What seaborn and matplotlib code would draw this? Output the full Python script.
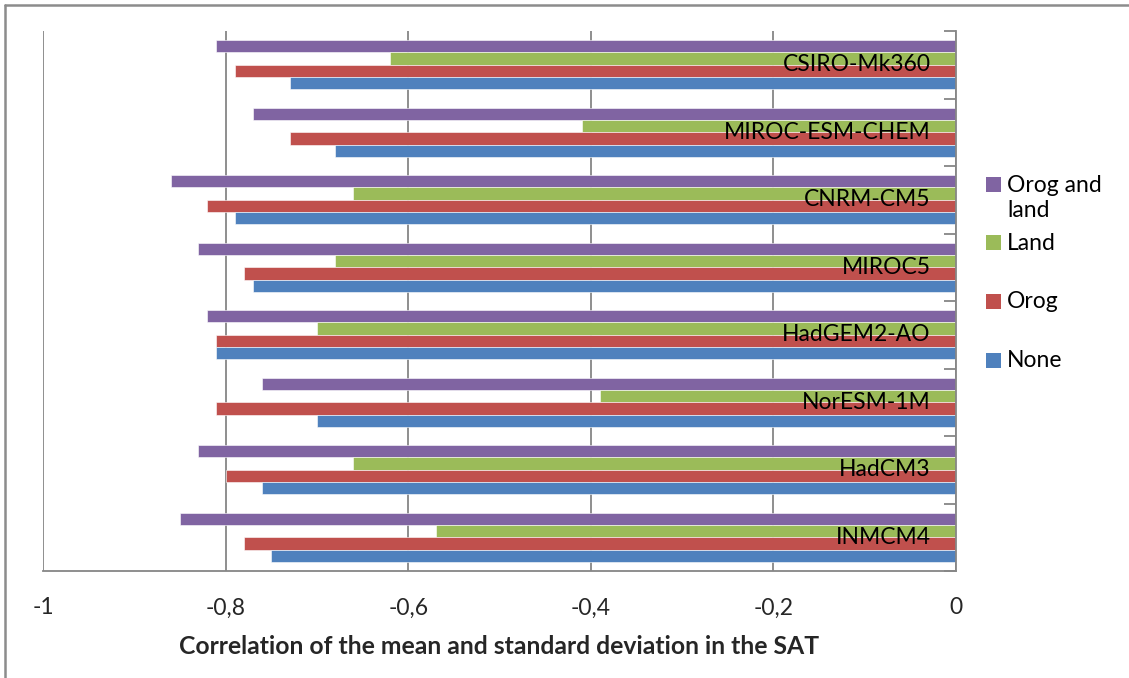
import matplotlib
matplotlib.use("Agg")
import matplotlib.pyplot as plt
from matplotlib.lines import Line2D
from matplotlib.patches import Rectangle
import seaborn as sns
import pandas as pd

# Climate models, listed top to bottom
models = ["CSIRO-Mk360", "MIROC-ESM-CHEM", "CNRM-CM5", "MIROC5",
          "HadGEM2-AO", "NorESM-1M", "HadCM3", "INMCM4"]

# Correlation of mean and standard deviation of SAT per experiment
orog_and_land = [-0.81, -0.77, -0.86, -0.83, -0.82, -0.76, -0.83, -0.85]
land = [-0.62, -0.41, -0.66, -0.68, -0.70, -0.39, -0.66, -0.57]
orog = [-0.79, -0.73, -0.82, -0.78, -0.81, -0.81, -0.80, -0.78]
none = [-0.73, -0.68, -0.79, -0.77, -0.81, -0.70, -0.76, -0.75]

series_names = ["Orog and land", "Land", "Orog", "None"]
series_values = [orog_and_land, land, orog, none]
legend_labels = ["Orog and\nland", "Land", "Orog", "None"]

x_ticks = [-1, -0.8, -0.6, -0.4, -0.2, 0]
x_tick_labels = ["-1", "-0,8", "-0,6", "-0,4", "-0,2", "0"]

palette = {"Orog and land": "#8064A2", "Land": "#9BBB59",
           "Orog": "#C0504D", "None": "#4F81BD"}

rows = []
for name, vals in zip(series_names, series_values):
    for m, v in zip(models, vals):
        rows.append({"model": m, "series": name, "value": v})
df = pd.DataFrame(rows)

sns.set_style("white")
plt.rcParams["font.family"] = ["Lato", "DejaVu Sans"]

W, H = 1129, 678
fig = plt.figure(figsize=(W / 100, H / 100), dpi=100)
ax = fig.add_axes([43 / W, 1 - 571 / H, (956 - 43) / W, (571 - 31) / H])

sns.barplot(data=df, x="value", y="model", hue="series", order=models,
            hue_order=series_names, palette=palette, orient="h",
            width=0.73, gap=0, saturation=1, ax=ax, legend=False,
            edgecolor="white", linewidth=0.4)

grid_c = "#868686"
ax.set_xlim(-1, 0)
ax.set_ylim(len(models) - 0.5, -0.5)
ax.set_xticks(x_ticks)
ax.set_xticklabels(x_tick_labels, fontsize=16.5)
ax.xaxis.grid(True, color=grid_c, linewidth=1.3)
ax.set_axisbelow(True)
ax.tick_params(axis="x", direction="out", length=7, color=grid_c,
               width=1.3, pad=12)

# category separators: ticks on the zero axis at the right
ax.set_yticks([i - 0.5 for i in range(len(models) + 1)])
ax.set_yticklabels([])
ax.yaxis.tick_right()
ax.tick_params(axis="y", direction="in", length=9, color=grid_c, width=1.3)
ax.set_ylabel("")

for side in ["top", "left"]:
    ax.spines[side].set_visible(False)
for side in ["bottom", "right"]:
    ax.spines[side].set_color(grid_c)
    ax.spines[side].set_linewidth(1.3)

for i, m in enumerate(models):
    ax.text(-0.028, i, m, ha="right", va="center", fontsize=16.5,
            color="black")

ax.set_xlabel("Correlation of the mean and standard deviation in the SAT",
              fontsize=17.8, fontweight="bold", labelpad=12)

# legend: square swatches with labels to the right
swatch_centers = [184.5, 242.5, 301.5, 360]
for name, lab, yc in zip(series_names, legend_labels, swatch_centers):
    fig.add_artist(Rectangle((986 / W, 1 - (yc + 7.5) / H), 15 / W, 15 / H,
                             transform=fig.transFigure,
                             facecolor=palette[name], edgecolor="none"))
    fig.text(1007 / W, 1 - (yc - 10) / H, lab, ha="left", va="top",
             fontsize=16.5, linespacing=1.25, color="black")

# outer chart frame
fig.add_artist(Line2D([5 / W, 5 / W], [0, 1 - 5 / H],
                      transform=fig.transFigure, color="#8c8c8c", lw=1.8))
fig.add_artist(Line2D([5 / W, 1], [1 - 5 / H, 1 - 5 / H],
                      transform=fig.transFigure, color="#8c8c8c", lw=1.8))

fig.savefig("out.png", dpi=100)
